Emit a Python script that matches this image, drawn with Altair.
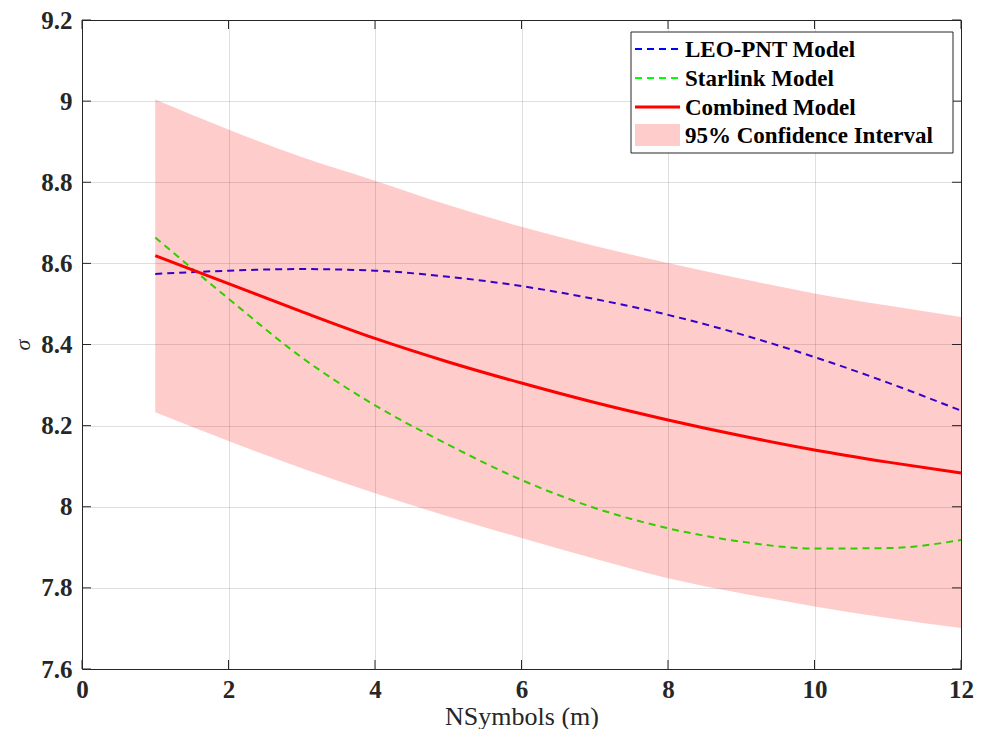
import altair as alt
import pandas as pd

# ---- data ----
n_symbols = [1, 2, 3, 4, 5, 6, 7, 8, 9, 10, 11, 12]
leo_pnt = [8.574, 8.582, 8.586, 8.582, 8.567, 8.544, 8.512, 8.473, 8.425, 8.369, 8.306, 8.237]
starlink = [8.664, 8.513, 8.368, 8.250, 8.153, 8.066, 7.997, 7.947, 7.914, 7.897, 7.898, 7.918]
combined = [8.619, 8.550, 8.481, 8.415, 8.357, 8.305, 8.257, 8.214, 8.175, 8.140, 8.110, 8.083]
ci_upper = [9.004, 8.930, 8.862, 8.804, 8.744, 8.690, 8.643, 8.601, 8.562, 8.526, 8.496, 8.468]
ci_lower = [8.233, 8.162, 8.095, 8.033, 7.976, 7.923, 7.872, 7.824, 7.787, 7.754, 7.726, 7.701]

x_ticks = [0, 2, 4, 6, 8, 10, 12]
y_ticks = [7.6, 7.8, 8.0, 8.2, 8.4, 8.6, 8.8, 9.0, 9.2]
legend_labels = ["LEO-PNT Model", "Starlink Model", "Combined Model", "95% Confidence Interval"]

W, H = 879, 649
AX = "#262626"
SERIF = "Liberation Serif"

df = pd.DataFrame({
    "x": n_symbols, "leo": leo_pnt, "star": starlink, "comb": combined,
    "lo": ci_lower, "hi": ci_upper,
})
xt = pd.DataFrame({"x": x_ticks})
yt = pd.DataFrame({"y": y_ticks})
one = pd.DataFrame({"k": [0]})

xscale = alt.Scale(domain=[0, 12], nice=False, zero=False)
yscale = alt.Scale(domain=[7.6, 9.2], nice=False, zero=False)

xaxis = alt.Axis(values=x_ticks, format="d", title="NSymbols (m)", grid=True, ticks=False,
                 domain=False, labelFont=SERIF, labelFontWeight="bold", labelFontSize=25,
                 labelColor=AX, labelPadding=8, titleFont=SERIF, titleFontWeight="normal",
                 titleFontSize=26, titleColor=AX, titlePadding=1, gridColor=AX, gridOpacity=0.15,
                 labelFlush=False)
yaxis = alt.Axis(values=y_ticks, format=".1~f", title="σ", grid=True, ticks=False,
                 domain=False, labelFont=SERIF, labelFontWeight="bold", labelFontSize=25,
                 labelColor=AX, labelPadding=10, titleFont=SERIF, titleFontStyle="italic",
                 titleFontWeight="normal", titleFontSize=22, titleColor=AX, titlePadding=6,
                 gridColor=AX, gridOpacity=0.15, labelFlush=False)

base = alt.Chart(df)
X = alt.X("x:Q", scale=xscale, axis=xaxis)

leo_line = base.mark_line(color="#0000ff", strokeWidth=2, strokeDash=[7, 5], interpolate="monotone").encode(
    x=X, y=alt.Y("leo:Q", scale=yscale, axis=yaxis))
star_line = base.mark_line(color="#00ff00", strokeWidth=2, strokeDash=[7, 5], interpolate="monotone").encode(
    x=X, y=alt.Y("star:Q", scale=yscale, axis=yaxis))
comb_line = base.mark_line(color="#ff0000", strokeWidth=3, interpolate="monotone").encode(
    x=X, y=alt.Y("comb:Q", scale=yscale, axis=yaxis))
band = base.mark_area(color="#ff0000", opacity=0.2, interpolate="monotone").encode(
    x=X, y=alt.Y("lo:Q", scale=yscale, axis=yaxis), y2="hi:Q")

# inward tick marks (MATLAB style), on all four sides
tick_len = 9
xt_bottom = alt.Chart(xt).mark_rule(color=AX, strokeWidth=1).encode(
    x=alt.X("x:Q", scale=xscale, axis=xaxis), y=alt.value(H), y2=alt.value(H - tick_len))
xt_top = alt.Chart(xt).mark_rule(color=AX, strokeWidth=1).encode(
    x=alt.X("x:Q", scale=xscale, axis=xaxis), y=alt.value(0), y2=alt.value(tick_len))
yt_left = alt.Chart(yt).mark_rule(color=AX, strokeWidth=1).encode(
    y=alt.Y("y:Q", scale=yscale, axis=yaxis), x=alt.value(0), x2=alt.value(tick_len))
yt_right = alt.Chart(yt).mark_rule(color=AX, strokeWidth=1).encode(
    y=alt.Y("y:Q", scale=yscale, axis=yaxis), x=alt.value(W), x2=alt.value(W - tick_len))

# legend box (positions relative to plot area)
lx0, lx1, ly0, ly1 = 549, 871, 12, 133
rows = [29, 58, 87, 115]
sx0, sx1, tx = 553, 598, 603
legend_layers = [
    alt.Chart(one).mark_rect(fill="white", stroke=AX, strokeWidth=1).encode(
        x=alt.value(lx0), x2=alt.value(lx1), y=alt.value(ly0), y2=alt.value(ly1)),
    alt.Chart(one).mark_rule(color="#0000ff", strokeWidth=2, strokeDash=[7, 5]).encode(
        x=alt.value(sx0), x2=alt.value(sx1), y=alt.value(rows[0])),
    alt.Chart(one).mark_rule(color="#00ff00", strokeWidth=2, strokeDash=[7, 5]).encode(
        x=alt.value(sx0), x2=alt.value(sx1), y=alt.value(rows[1])),
    alt.Chart(one).mark_rule(color="#ff0000", strokeWidth=3).encode(
        x=alt.value(sx0), x2=alt.value(sx1), y=alt.value(rows[2])),
    alt.Chart(one).mark_rect(color="#ff0000", opacity=0.2).encode(
        x=alt.value(sx0), x2=alt.value(sx1), y=alt.value(rows[3] - 11), y2=alt.value(rows[3] + 11)),
]
for lab, ry in zip(legend_labels, rows):
    legend_layers.append(
        alt.Chart(one).mark_text(font=SERIF, fontWeight="bold", fontSize=23, color="black",
                                 align="left", baseline="middle").encode(
            x=alt.value(tx), y=alt.value(ry + 1), text=alt.value(lab)))

chart = alt.layer(
    leo_line, star_line, comb_line, band,
    xt_bottom, xt_top, yt_left, yt_right,
    *legend_layers,
).properties(
    width=W, height=H,
    autosize=alt.AutoSizeParams(type="none"),
    padding={"left": 74, "top": 12, "right": 13, "bottom": 60},
    background="white",
).configure_view(stroke=AX, strokeWidth=1)

chart.save("out.html", embed_options={"renderer": "svg", "actions": False})
